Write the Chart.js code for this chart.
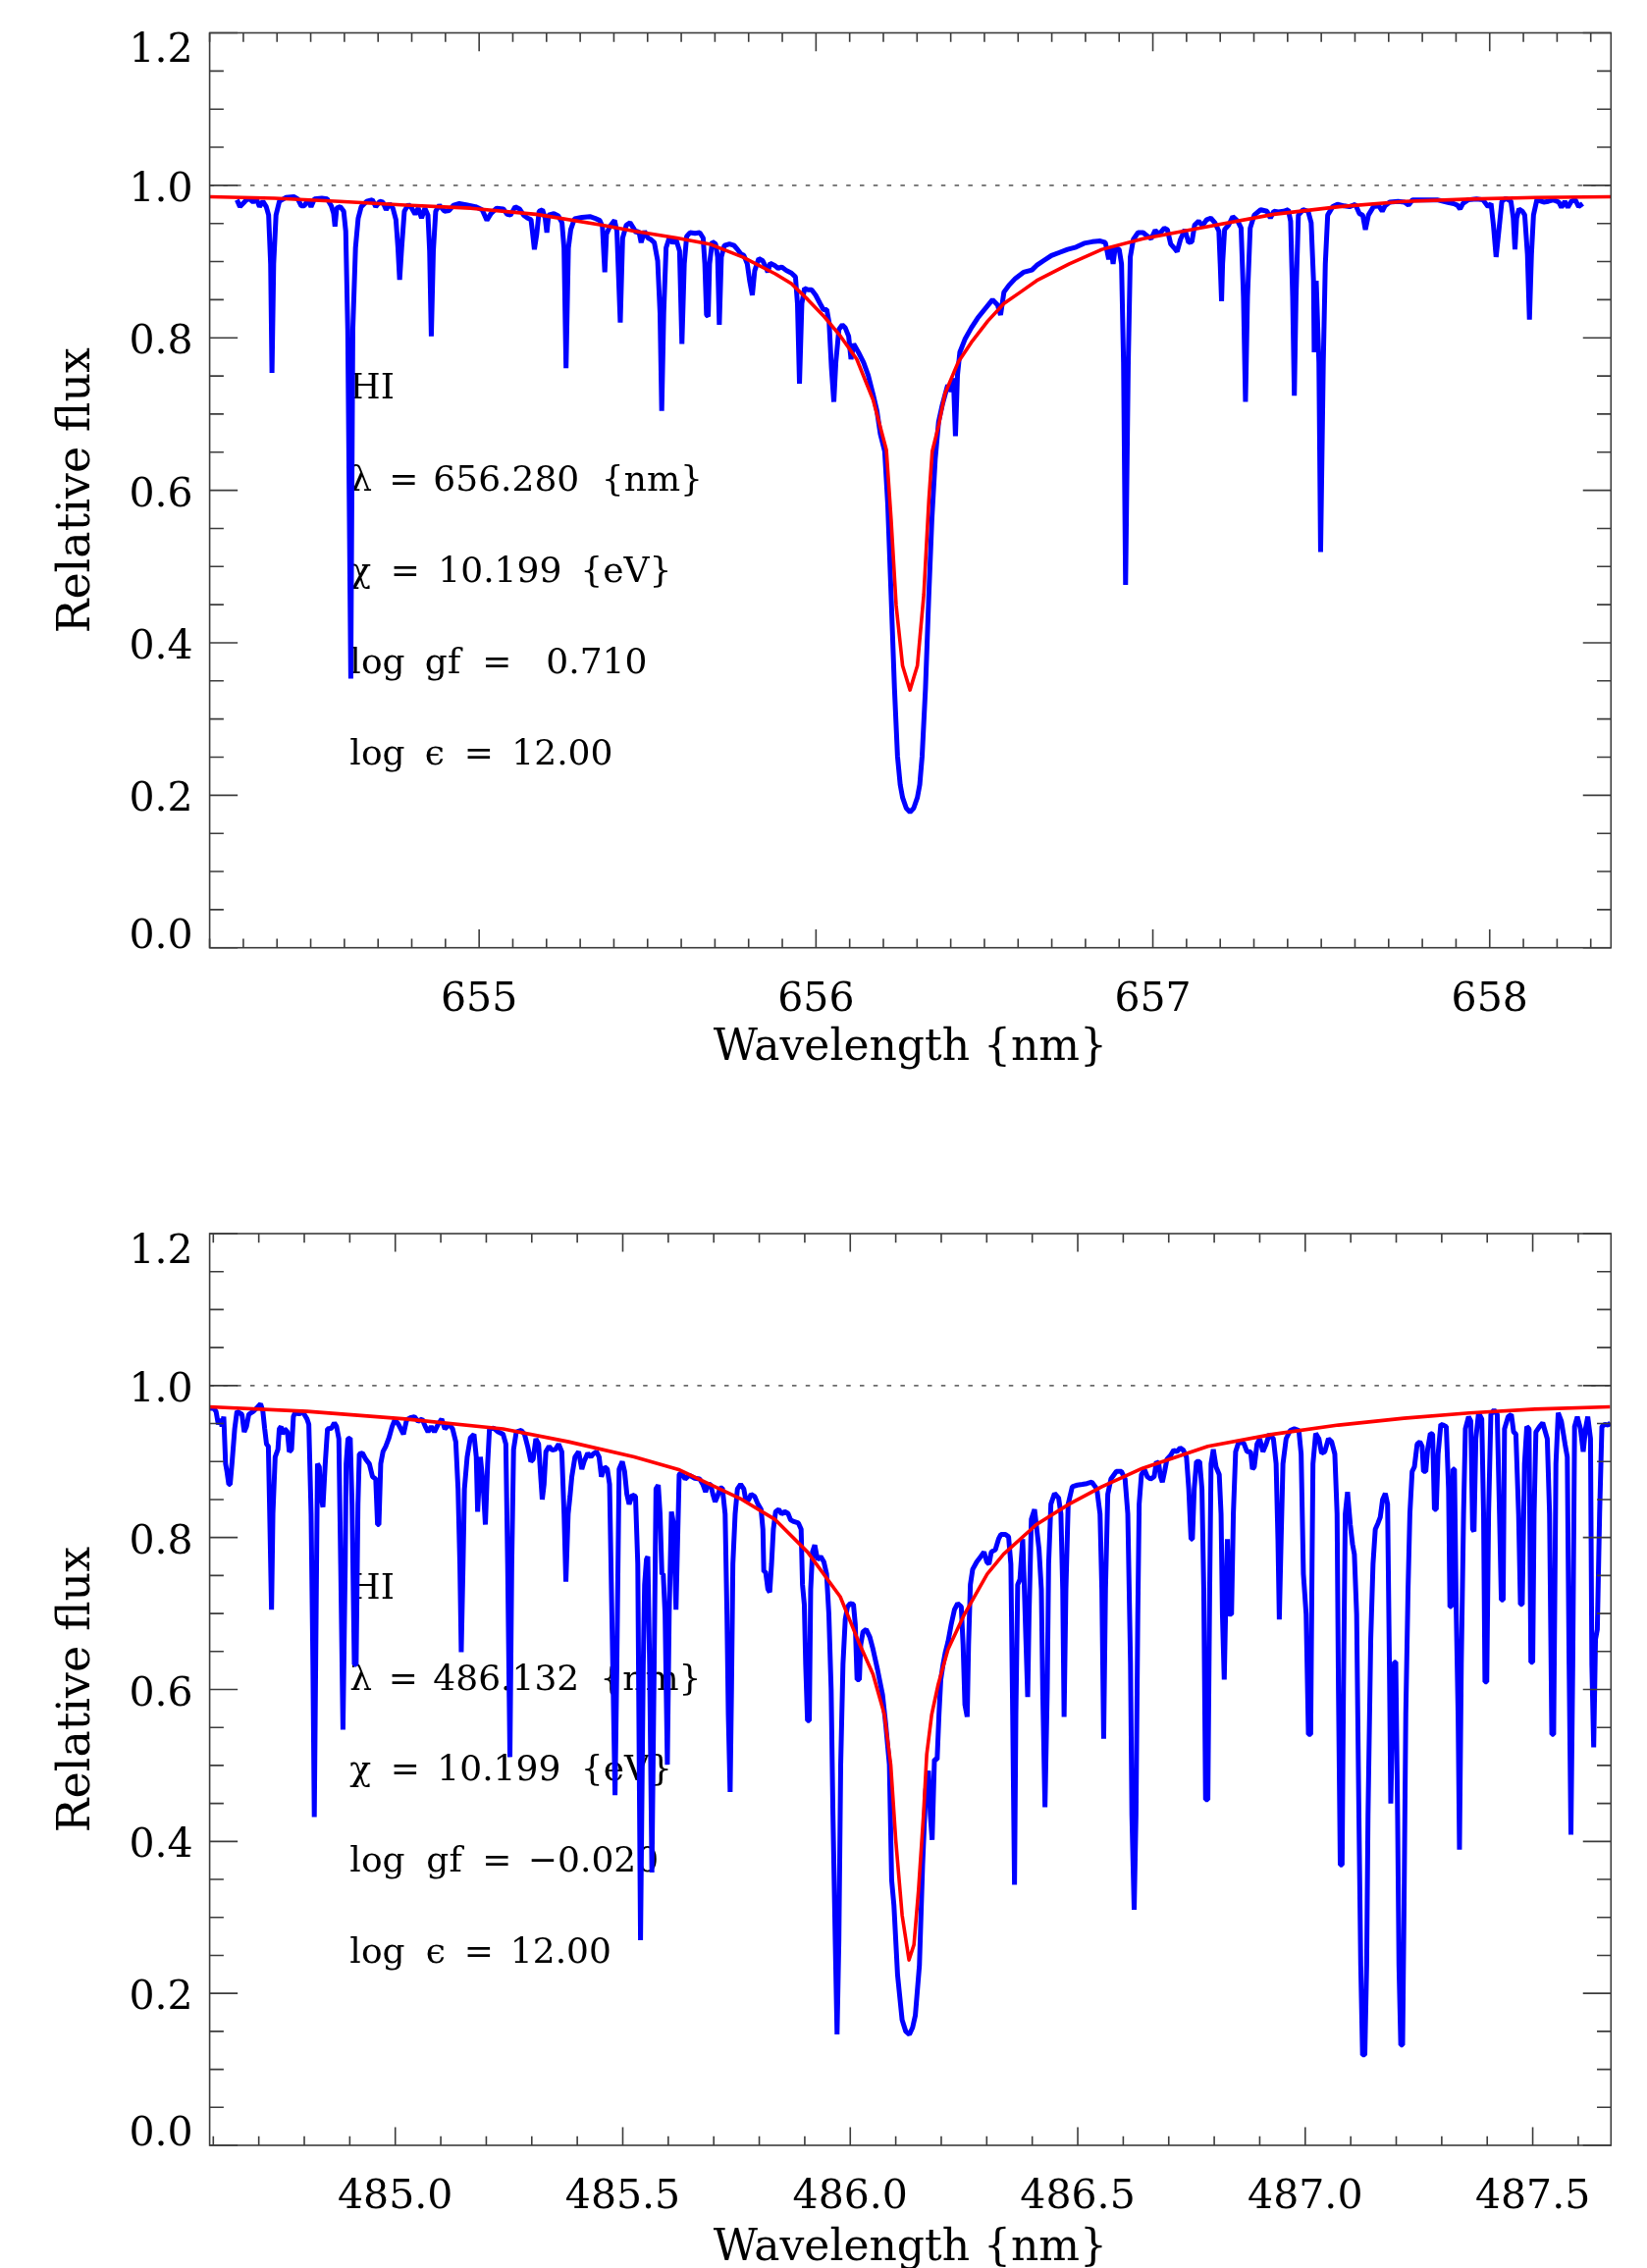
<!DOCTYPE html>
<html><head><meta charset="utf-8">
<script src="https://cdn.jsdelivr.net/npm/chart.js@4.4.1/dist/chart.umd.min.js"></script>
<style>
html,body{margin:0;padding:0;background:#fff;}
#wrap{position:relative;width:1678px;height:2311px;background:#fff;}
canvas{position:absolute;left:0;}
#c1{top:0;}
#c2{top:1150px;}
</style></head><body>
<div id="wrap"><canvas id="c1" width="1678" height="1150"></canvas><canvas id="c2" width="1678" height="1161"></canvas></div>
<script>
// ---------- H-alpha panel (656.280 nm) ----------
const haRange = [654.2, 658.36];
const haXTicks = [655, 656, 657, 658];
const haObserved = [
[654.281,0.981],[654.290,0.972],[654.305,0.979],[654.316,0.983],[654.329,0.978],[654.339,0.982],[654.348,0.972],[654.358,0.979],
[654.368,0.972],[654.375,0.961],[654.381,0.897],[654.385,0.754],[654.390,0.897],[654.397,0.961],[654.407,0.979],[654.426,0.984],
[654.450,0.985],[654.462,0.982],[654.472,0.973],[654.481,0.973],[654.491,0.981],[654.501,0.972],[654.511,0.982],[654.533,0.983],
[654.549,0.982],[654.561,0.973],[654.568,0.963],[654.572,0.946],[654.577,0.970],[654.588,0.972],[654.598,0.966],[654.604,0.940],
[654.610,0.811],[654.619,0.353],[654.625,0.811],[654.633,0.918],[654.641,0.957],[654.650,0.972],[654.666,0.979],[654.683,0.981],
[654.693,0.972],[654.705,0.979],[654.714,0.978],[654.724,0.968],[654.734,0.976],[654.744,0.970],[654.753,0.955],[654.759,0.918],
[654.764,0.876],[654.770,0.918],[654.778,0.966],[654.790,0.975],[654.800,0.970],[654.810,0.962],[654.819,0.970],[654.829,0.957],
[654.839,0.970],[654.848,0.961],[654.853,0.914],[654.858,0.802],[654.864,0.914],[654.871,0.966],[654.882,0.974],[654.897,0.966],
[654.911,0.967],[654.924,0.974],[654.941,0.976],[654.965,0.974],[654.989,0.972],[655.009,0.968],[655.023,0.954],[655.035,0.963],
[655.052,0.970],[655.072,0.969],[655.083,0.962],[655.093,0.961],[655.107,0.972],[655.120,0.969],[655.132,0.961],[655.144,0.957],
[655.154,0.955],[655.159,0.936],[655.164,0.916],[655.171,0.936],[655.178,0.966],[655.188,0.968],[655.196,0.957],[655.201,0.938],
[655.206,0.961],[655.222,0.963],[655.235,0.960],[655.246,0.951],[655.252,0.918],[655.258,0.760],[655.265,0.918],[655.272,0.942],
[655.283,0.956],[655.305,0.958],[655.329,0.959],[655.343,0.957],[655.358,0.954],[655.366,0.946],[655.373,0.886],[655.378,0.936],
[655.388,0.946],[655.402,0.954],[655.409,0.940],[655.419,0.820],[655.426,0.931],[655.437,0.948],[655.448,0.951],[655.458,0.944],
[655.466,0.938],[655.474,0.940],[655.481,0.925],[655.491,0.940],[655.501,0.931],[655.510,0.929],[655.520,0.925],[655.530,0.901],
[655.537,0.833],[655.542,0.704],[655.548,0.833],[655.555,0.918],[655.565,0.932],[655.575,0.924],[655.584,0.930],[655.595,0.914],
[655.602,0.792],[655.609,0.897],[655.616,0.933],[655.626,0.938],[655.641,0.937],[655.655,0.938],[655.665,0.931],[655.670,0.897],
[655.675,0.830],[655.680,0.828],[655.684,0.897],[655.692,0.926],[655.702,0.923],[655.708,0.906],[655.713,0.817],[655.719,0.906],
[655.728,0.921],[655.743,0.923],[655.757,0.921],[655.767,0.916],[655.777,0.910],[655.786,0.908],[655.796,0.897],[655.803,0.875],
[655.811,0.856],[655.818,0.888],[655.830,0.904],[655.842,0.901],[655.851,0.893],[655.857,0.886],[655.864,0.898],[655.877,0.895],
[655.888,0.891],[655.898,0.893],[655.913,0.888],[655.927,0.885],[655.939,0.880],[655.945,0.845],[655.951,0.740],[655.958,0.845],
[655.966,0.865],[655.976,0.863],[655.987,0.863],[655.999,0.856],[656.012,0.845],[656.022,0.837],[656.032,0.837],[656.039,0.820],
[656.046,0.760],[656.053,0.716],[656.059,0.768],[656.068,0.811],[656.078,0.817],[656.087,0.813],[656.097,0.802],[656.104,0.772],
[656.112,0.792],[656.126,0.781],[656.141,0.768],[656.155,0.751],[656.170,0.725],[656.181,0.704],[656.191,0.674],[656.204,0.651],
[656.213,0.582],[656.223,0.463],[656.233,0.340],[656.242,0.251],[656.250,0.214],[656.257,0.197],[656.268,0.183],[656.279,0.178],
[656.290,0.183],[656.301,0.197],[656.308,0.214],[656.315,0.251],
[656.325,0.340],[656.335,0.463],[656.344,0.562],[656.354,0.641],[656.364,0.690],[656.375,0.712],[656.391,0.738],[656.401,0.730],
[656.408,0.747],[656.414,0.671],[656.420,0.751],[656.427,0.781],[656.442,0.798],[656.461,0.813],[656.480,0.826],[656.500,0.837],
[656.524,0.850],[656.539,0.843],[656.548,0.830],[656.558,0.860],[656.573,0.869],[656.592,0.878],[656.616,0.886],[656.641,0.889],
[656.655,0.895],[656.675,0.901],[656.699,0.908],[656.723,0.912],[656.747,0.916],[656.772,0.919],[656.796,0.924],[656.820,0.926],
[656.844,0.927],[656.859,0.925],[656.869,0.903],[656.876,0.918],[656.882,0.897],[656.888,0.918],[656.900,0.916],[656.907,0.897],
[656.913,0.768],[656.919,0.476],[656.927,0.768],[656.933,0.906],[656.942,0.929],[656.956,0.938],[656.971,0.938],[656.985,0.933],
[656.995,0.930],[657.007,0.941],[657.019,0.936],[657.034,0.944],[657.043,0.942],[657.053,0.923],[657.063,0.918],[657.072,0.913],
[657.082,0.929],[657.095,0.942],[657.106,0.925],[657.116,0.926],[657.124,0.948],[657.136,0.953],[657.147,0.947],[657.160,0.955],
[657.172,0.957],[657.184,0.951],[657.196,0.940],[657.200,0.897],[657.204,0.848],[657.207,0.897],[657.213,0.942],[657.225,0.948],
[657.237,0.959],[657.252,0.953],[657.262,0.944],[657.269,0.854],[657.275,0.716],[657.281,0.854],[657.289,0.944],[657.301,0.961],
[657.320,0.968],[657.339,0.966],[657.349,0.957],[657.359,0.966],[657.373,0.965],[657.388,0.966],[657.402,0.968],[657.409,0.953],
[657.415,0.854],[657.420,0.724],[657.425,0.854],[657.432,0.961],[657.446,0.968],[657.461,0.966],[657.470,0.951],[657.477,0.875],
[657.479,0.781],[657.485,0.875],[657.493,0.768],[657.498,0.519],[657.506,0.768],[657.512,0.897],[657.519,0.961],[657.534,0.972],
[657.548,0.975],[657.568,0.973],[657.584,0.972],[657.601,0.975],[657.613,0.963],[657.623,0.961],[657.631,0.942],[657.640,0.961],
[657.655,0.972],[657.671,0.973],[657.681,0.966],[657.689,0.973],[657.703,0.978],[657.728,0.979],[657.747,0.978],[657.759,0.974],
[657.771,0.981],[657.805,0.981],[657.844,0.981],[657.873,0.978],[657.893,0.976],[657.904,0.974],[657.912,0.969],[657.920,0.976],
[657.936,0.981],[657.961,0.982],[657.980,0.981],[657.995,0.972],[658.004,0.976],[658.011,0.948],[658.019,0.906],[658.027,0.940],
[658.036,0.979],[658.048,0.983],[658.063,0.979],[658.070,0.957],[658.075,0.916],[658.080,0.957],[658.087,0.969],[658.097,0.966],
[658.104,0.961],[658.112,0.910],[658.118,0.824],[658.124,0.910],[658.130,0.961],[658.140,0.981],[658.160,0.978],[658.174,0.979],
[658.189,0.981],[658.205,0.978],[658.213,0.971],[658.223,0.979],[658.232,0.971],[658.242,0.979],[658.254,0.981],[658.264,0.972],
[658.276,0.976]
];
const haModel = [
[654.200,0.985],[654.392,0.983],[654.586,0.979],[654.781,0.974],[654.975,0.970],[655.169,0.962],[655.363,0.948],[655.460,0.940],
[655.587,0.931],[655.684,0.923],[655.782,0.906],[655.879,0.884],[655.927,0.871],[655.976,0.850],[656.024,0.828],[656.073,0.802],
[656.121,0.772],[656.170,0.718],[656.209,0.653],[656.223,0.562],[656.238,0.449],[656.257,0.370],[656.279,0.338],[656.301,0.370],
[656.320,0.463],[656.335,0.587],[656.345,0.651],[656.364,0.685],[656.383,0.727],[656.422,0.768],[656.461,0.794],[656.510,0.822],
[656.558,0.845],[656.607,0.860],[656.655,0.875],[656.752,0.897],[656.849,0.916],[656.971,0.930],[657.165,0.946],[657.359,0.962],
[657.553,0.972],[657.747,0.979],[657.941,0.982],[658.135,0.984],[658.360,0.985]
];
const haContinuum = [[654.2,1.0],[658.36,1.0]];
const haInfo = [["HI"], ["\u03bb", "=", "656.280", "{nm}"], ["\u03c7", "=", "10.199", "{eV}"], ["log", "gf", "=", "0.710"], ["log", "\u03f5", "=", "12.00"]];
const haInfoX = 654.616;

// ---------- H-beta panel (486.132 nm) ----------
const hbRange = [484.592, 487.672];
const hbXTicks = [485.0, 485.5, 486.0, 486.5, 487.0, 487.5];
const hbObserved = [
[484.591,0.970],[484.601,0.970],[484.606,0.966],[484.611,0.949],[484.616,0.956],[484.619,0.946],[484.623,0.959],[484.627,0.897],
[484.630,0.887],[484.634,0.870],[484.637,0.870],[484.641,0.897],[484.647,0.943],[484.652,0.966],[484.663,0.962],[484.668,0.939],
[484.673,0.946],[484.678,0.962],[484.688,0.966],[484.698,0.972],[484.704,0.976],[484.709,0.966],[484.713,0.943],[484.717,0.923],
[484.721,0.920],[484.724,0.831],[484.728,0.705],[484.731,0.831],[484.736,0.906],[484.742,0.916],[484.745,0.943],[484.749,0.946],
[484.752,0.936],[484.757,0.943],[484.763,0.939],[484.767,0.913],[484.772,0.916],[484.776,0.959],[484.781,0.966],[484.788,0.962],
[484.794,0.966],[484.800,0.962],[484.806,0.956],[484.810,0.949],[484.815,0.831],[484.819,0.633],[484.822,0.432],[484.825,0.633],
[484.829,0.897],[484.833,0.893],[484.836,0.857],[484.841,0.840],[484.846,0.897],[484.851,0.943],[484.860,0.944],[484.866,0.951],
[484.871,0.946],[484.876,0.930],[484.880,0.765],[484.885,0.547],[484.890,0.765],[484.892,0.897],[484.896,0.930],[484.901,0.931],
[484.905,0.844],[484.910,0.633],[484.914,0.633],[484.918,0.844],[484.921,0.910],[484.928,0.911],[484.935,0.903],[484.943,0.897],
[484.950,0.880],[484.957,0.877],[484.961,0.817],[484.964,0.817],[484.968,0.897],[484.973,0.913],[484.979,0.920],[484.986,0.931],
[484.993,0.946],[484.999,0.955],[485.007,0.949],[485.018,0.936],[485.025,0.955],[485.035,0.958],[485.042,0.959],[485.050,0.953],
[485.059,0.956],[485.066,0.946],[485.072,0.939],[485.079,0.946],[485.086,0.939],[485.094,0.949],[485.102,0.956],[485.109,0.943],
[485.119,0.949],[485.126,0.943],[485.133,0.926],[485.138,0.864],[485.142,0.765],[485.145,0.649],[485.149,0.765],[485.152,0.864],
[485.158,0.906],[485.165,0.931],[485.173,0.936],[485.178,0.906],[485.181,0.834],[485.187,0.906],[485.193,0.870],[485.198,0.817],
[485.203,0.897],[485.207,0.943],[485.216,0.944],[485.226,0.939],[485.237,0.936],[485.243,0.923],[485.247,0.765],[485.252,0.511],
[485.256,0.765],[485.260,0.916],[485.266,0.939],[485.277,0.941],[485.284,0.936],[485.291,0.920],[485.298,0.900],[485.303,0.903],
[485.309,0.930],[485.315,0.923],[485.320,0.877],[485.323,0.850],[485.327,0.870],[485.331,0.913],[485.338,0.920],[485.345,0.915],
[485.352,0.916],[485.359,0.923],[485.366,0.913],[485.371,0.831],[485.375,0.742],[485.380,0.831],[485.384,0.854],[485.388,0.880],
[485.395,0.906],[485.403,0.913],[485.410,0.890],[485.415,0.900],[485.423,0.911],[485.430,0.906],[485.435,0.910],[485.442,0.913],
[485.448,0.906],[485.453,0.880],[485.460,0.893],[485.466,0.890],[485.471,0.870],[485.478,0.633],[485.483,0.461],[485.487,0.633],
[485.492,0.890],[485.499,0.900],[485.504,0.887],[485.509,0.857],[485.514,0.844],[485.521,0.856],[485.528,0.854],[485.533,0.765],
[485.539,0.270],[485.545,0.633],[485.548,0.738],[485.552,0.771],[485.555,0.775],[485.559,0.633],[485.564,0.359],[485.569,0.633],
[485.573,0.864],[485.578,0.869],[485.582,0.831],[485.586,0.752],[485.589,0.752],[485.593,0.699],[485.598,0.501],[485.602,0.699],
[485.607,0.834],[485.612,0.817],[485.617,0.705],[485.624,0.883],[485.629,0.885],[485.637,0.877],[485.646,0.882],[485.658,0.878],
[485.669,0.877],[485.676,0.870],[485.682,0.860],[485.687,0.870],[485.693,0.870],[485.698,0.857],[485.703,0.847],[485.708,0.854],
[485.714,0.865],[485.719,0.865],[485.725,0.831],[485.729,0.699],[485.732,0.567],[485.736,0.465],[485.739,0.600],[485.742,0.765],
[485.747,0.831],[485.752,0.864],[485.759,0.870],[485.766,0.864],[485.771,0.847],[485.777,0.850],[485.782,0.857],[485.790,0.854],
[485.797,0.844],[485.804,0.837],[485.808,0.811],[485.810,0.755],[485.814,0.755],[485.819,0.732],[485.823,0.728],[485.827,0.765],
[485.831,0.811],[485.836,0.834],[485.843,0.837],[485.849,0.831],[485.856,0.834],[485.863,0.832],[485.869,0.823],[485.876,0.821],
[485.886,0.819],[485.892,0.811],[485.895,0.738],[485.899,0.712],[485.902,0.633],[485.906,0.559],[485.910,0.559],[485.913,0.732],
[485.917,0.781],[485.922,0.790],[485.928,0.771],[485.935,0.775],[485.942,0.768],[485.948,0.752],[485.953,0.699],[485.958,0.600],
[485.962,0.435],[485.967,0.270],[485.971,0.146],[485.975,0.270],[485.979,0.501],[485.984,0.633],[485.989,0.692],[485.994,0.709],
[486.000,0.713],[486.007,0.712],[486.011,0.686],[486.015,0.613],[486.020,0.613],[486.023,0.659],[486.028,0.676],[486.035,0.679],
[486.043,0.669],[486.050,0.653],[486.060,0.626],[486.071,0.593],[486.078,0.554],[486.086,0.501],[486.091,0.349],[486.096,0.316],
[486.104,0.224],[486.114,0.165],[486.122,0.150],[486.130,0.146],[486.137,0.155],[486.143,0.171],[486.152,0.237],[486.159,0.369],[486.166,0.468],[486.172,0.493],
[486.176,0.435],[486.180,0.402],[486.185,0.508],[486.191,0.508],[486.195,0.567],[486.199,0.613],[486.204,0.633],[486.209,0.649],
[486.215,0.663],[486.222,0.686],[486.229,0.705],[486.236,0.713],[486.244,0.709],[486.248,0.659],[486.252,0.580],[486.257,0.564],
[486.260,0.659],[486.264,0.738],[486.269,0.758],[486.278,0.768],[486.287,0.775],[486.294,0.781],[486.300,0.768],[486.305,0.765],
[486.310,0.781],[486.319,0.784],[486.326,0.798],[486.331,0.804],[486.341,0.804],[486.348,0.801],[486.353,0.765],[486.357,0.567],
[486.361,0.343],[486.364,0.567],[486.368,0.738],[486.373,0.745],[486.379,0.798],[486.382,0.745],[486.386,0.666],[486.390,0.590],
[486.393,0.699],[486.398,0.824],[486.405,0.837],[486.410,0.811],[486.415,0.784],[486.420,0.732],[486.423,0.600],[486.428,0.445],
[486.433,0.600],[486.436,0.765],[486.441,0.844],[486.449,0.858],[486.458,0.852],[486.463,0.831],[486.467,0.732],[486.470,0.564],
[486.474,0.732],[486.479,0.844],[486.488,0.867],[486.499,0.869],[486.510,0.870],[486.520,0.871],[486.531,0.873],[486.542,0.864],
[486.549,0.831],[486.553,0.732],[486.557,0.535],[486.561,0.732],[486.566,0.857],[486.573,0.877],[486.585,0.887],[486.596,0.887],
[486.604,0.877],[486.610,0.831],[486.616,0.633],[486.619,0.435],[486.624,0.310],[486.628,0.435],[486.632,0.699],[486.635,0.844],
[486.640,0.883],[486.647,0.889],[486.653,0.880],[486.660,0.877],[486.668,0.880],[486.673,0.900],[486.678,0.897],[486.682,0.880],
[486.686,0.873],[486.691,0.887],[486.696,0.903],[486.704,0.908],[486.711,0.915],[486.718,0.913],[486.725,0.918],[486.732,0.915],
[486.739,0.906],[486.744,0.864],[486.749,0.798],[486.752,0.798],[486.756,0.864],[486.761,0.900],[486.768,0.900],[486.773,0.864],
[486.777,0.732],[486.781,0.455],[486.786,0.455],[486.790,0.732],[486.793,0.897],[486.798,0.916],[486.804,0.893],[486.811,0.883],
[486.815,0.831],[486.818,0.699],[486.822,0.613],[486.826,0.732],[486.829,0.798],[486.833,0.699],[486.838,0.699],[486.842,0.831],
[486.847,0.913],[486.854,0.926],[486.865,0.924],[486.872,0.913],[486.880,0.913],[486.884,0.890],[486.888,0.893],[486.894,0.923],
[486.900,0.930],[486.907,0.913],[486.914,0.923],[486.921,0.936],[486.930,0.930],[486.936,0.897],[486.940,0.798],[486.943,0.692],
[486.947,0.798],[486.951,0.897],[486.958,0.930],[486.967,0.941],[486.976,0.943],[486.986,0.941],[486.991,0.910],[486.996,0.752],
[487.002,0.699],[487.007,0.541],[487.012,0.541],[487.015,0.765],[487.017,0.897],[487.023,0.937],[487.030,0.930],[487.036,0.911],
[487.043,0.913],[487.051,0.930],[487.058,0.926],[487.065,0.910],[487.070,0.831],[487.073,0.600],[487.077,0.369],[487.081,0.369],
[487.084,0.600],[487.088,0.831],[487.093,0.860],[487.099,0.817],[487.104,0.791],[487.108,0.778],[487.113,0.699],[487.118,0.435],
[487.122,0.237],[487.126,0.119],[487.131,0.119],[487.135,0.237],[487.138,0.435],[487.144,0.666],[487.149,0.765],[487.154,0.811],
[487.160,0.819],[487.165,0.827],[487.170,0.850],[487.176,0.858],[487.181,0.844],[487.185,0.633],[487.188,0.450],[487.192,0.567],
[487.196,0.636],[487.199,0.636],[487.203,0.435],[487.206,0.237],[487.210,0.132],[487.214,0.132],[487.217,0.303],[487.221,0.567],
[487.226,0.732],[487.230,0.831],[487.235,0.887],[487.240,0.893],[487.246,0.923],[487.252,0.926],[487.257,0.920],[487.260,0.887],
[487.265,0.887],[487.269,0.916],[487.275,0.937],[487.280,0.936],[487.284,0.837],[487.288,0.837],[487.292,0.910],[487.298,0.949],
[487.303,0.948],[487.310,0.946],[487.315,0.864],[487.318,0.709],[487.321,0.709],[487.325,0.890],[487.328,0.890],[487.332,0.699],
[487.336,0.567],[487.339,0.389],[487.343,0.633],[487.348,0.831],[487.352,0.943],[487.359,0.959],[487.364,0.953],[487.368,0.811],
[487.371,0.808],[487.375,0.930],[487.381,0.964],[487.388,0.956],[487.392,0.831],[487.395,0.610],[487.399,0.610],[487.403,0.831],
[487.408,0.962],[487.415,0.968],[487.422,0.962],[487.427,0.831],[487.431,0.718],[487.435,0.718],[487.438,0.943],[487.446,0.959],
[487.453,0.962],[487.458,0.939],[487.463,0.936],[487.469,0.831],[487.473,0.712],[487.477,0.712],[487.482,0.897],[487.487,0.946],
[487.492,0.943],[487.496,0.636],[487.500,0.636],[487.503,0.831],[487.507,0.939],[487.515,0.946],[487.522,0.951],[487.532,0.930],
[487.537,0.831],[487.542,0.541],[487.546,0.541],[487.551,0.897],[487.556,0.964],[487.563,0.953],[487.571,0.923],[487.576,0.906],
[487.580,0.633],[487.584,0.409],[487.588,0.633],[487.592,0.946],[487.598,0.959],[487.605,0.943],[487.611,0.913],[487.616,0.943],
[487.621,0.959],[487.627,0.930],[487.630,0.633],[487.634,0.524],[487.638,0.666],[487.642,0.679],[487.647,0.831],[487.652,0.946],
[487.659,0.949],[487.666,0.948],[487.671,0.951]
];
const hbModel = [
[484.591,0.972],[484.806,0.966],[485.022,0.956],[485.237,0.943],[485.381,0.926],[485.525,0.906],[485.625,0.889],[485.691,0.870],
[485.762,0.850],[485.834,0.824],[485.906,0.781],[485.978,0.722],[486.021,0.659],[486.050,0.620],[486.075,0.567],[486.089,0.501],
[486.100,0.402],[486.114,0.303],[486.129,0.244],[486.140,0.264],[486.150,0.336],[486.161,0.435],[486.168,0.514],[486.179,0.567],
[486.193,0.606],[486.215,0.653],[486.251,0.699],[486.301,0.752],[486.337,0.778],[486.409,0.817],[486.481,0.844],[486.553,0.867],
[486.642,0.891],[486.786,0.920],[486.930,0.936],[487.073,0.948],[487.217,0.957],[487.361,0.964],[487.505,0.969],[487.670,0.972]
];
const hbContinuum = [[484.592,1.0],[487.672,1.0]];
const hbInfo = [["HI"], ["\u03bb", "=", "486.132", "{nm}"], ["\u03c7", "=", "10.199", "{eV}"], ["log", "gf", "=", "\u22120.020"], ["log", "\u03f5", "=", "12.00"]];
const hbInfoX = 484.900;

// shared
const yTicks = [0.0, 0.2, 0.4, 0.6, 0.8, 1.0, 1.2];
const infoRows = [0.72, 0.60, 0.48, 0.36, 0.24];
const xTitle = "Wavelength {nm}";
const yTitle = "Relative flux";

// layout / style (pixel offsets of the words inside each annotation line)
const FONT = "'DejaVu Serif', 'Liberation Serif', serif";
const haTokenX = [[0], [0, 40, 85, 256.5], [0, 41.5, 90, 235], [0, 76.5, 135, 200], [0, 76.5, 116.5, 165]];
const hbTokenX = [[0], [0, 39.5, 85, 255], [0, 41.5, 89, 235.5], [0, 78, 135, 181.5], [0, 77.5, 116.5, 163.5]];

const idlFrame = {
  id: 'idlFrame',
  afterDraw(chart, args, o) {
    const {ctx, chartArea: a} = chart;
    const xs = chart.scales.x, ys = chart.scales.y;
    ctx.save();
    ctx.strokeStyle = '#3c3c3c';
    ctx.lineWidth = 1.6;
    ctx.strokeRect(a.left, a.top, a.right - a.left, a.bottom - a.top);
    const xLen = 0.02 * (a.bottom - a.top), yLen = 0.02 * (a.right - a.left);
    ctx.beginPath();
    let k0 = Math.ceil(xs.min / o.xMinor - 1e-6), k1 = Math.floor(xs.max / o.xMinor + 1e-6);
    for (let k = k0; k <= k1; k++) {
      const v = k * o.xMinor, r = v / o.xMajor;
      const len = Math.abs(r - Math.round(r)) < 1e-6 ? xLen : xLen / 2;
      const p = xs.getPixelForValue(v);
      ctx.moveTo(p, a.bottom); ctx.lineTo(p, a.bottom - len);
      ctx.moveTo(p, a.top); ctx.lineTo(p, a.top + len);
    }
    k0 = Math.ceil(ys.min / o.yMinor - 1e-6); k1 = Math.floor(ys.max / o.yMinor + 1e-6);
    for (let k = k0; k <= k1; k++) {
      const v = k * o.yMinor, r = v / o.yMajor;
      const len = Math.abs(r - Math.round(r)) < 1e-6 ? yLen : yLen / 2;
      const p = ys.getPixelForValue(v);
      ctx.moveTo(a.left, p); ctx.lineTo(a.left + len, p);
      ctx.moveTo(a.right, p); ctx.lineTo(a.right - len, p);
    }
    ctx.stroke();
    // y tick labels (end labels kept inside the axis span, as in the original)
    ctx.fillStyle = '#000';
    ctx.font = '41px ' + FONT;
    ctx.textAlign = 'right';
    ctx.textBaseline = 'alphabetic';
    const dh = 29.5;
    yTicks.forEach(v => {
      const p = ys.getPixelForValue(v);
      let base = p + 16;
      if (Math.abs(v - ys.max) < 1e-9) base = a.top + dh;
      else if (Math.abs(v - ys.min) < 1e-9) base = a.bottom;
      ctx.fillText(v.toFixed(1), a.left - 17, base);
    });
    ctx.restore();
  }
};

const lineInfo = {
  id: 'lineInfo',
  beforeDatasetsDraw(chart, args, o) {
    const {ctx} = chart;
    const xs = chart.scales.x, ys = chart.scales.y;
    ctx.save();
    ctx.fillStyle = '#000';
    ctx.font = '36px ' + FONT;
    ctx.textAlign = 'left';
    ctx.textBaseline = 'alphabetic';
    const px = xs.getPixelForValue(o.x);
    o.lines.forEach((words, i) => {
      const py = ys.getPixelForValue(o.rows[i]);
      words.forEach((w, j) => ctx.fillText(w, px + o.tokenX[i][j], py));
    });
    ctx.restore();
  }
};

function toXY(arr) { return arr.map(p => ({x: p[0], y: p[1]})); }

function panel(id, cfg) {
  return new Chart(document.getElementById(id), {
    type: 'line',
    data: {
      datasets: [
        {data: toXY(cfg.model), borderColor: '#ff0000', borderWidth: 3.6, pointRadius: 0, tension: 0, fill: false, borderJoinStyle: 'round'},
        {data: toXY(cfg.obs), borderColor: '#0000ff', borderWidth: 5, pointRadius: 0, tension: 0, fill: false, borderJoinStyle: 'bevel'},
        {data: toXY(cfg.cont), borderColor: '#6a6a6a', borderWidth: 1.6, borderDash: [4.5, 9.3], pointRadius: 0, tension: 0, fill: false}
      ]
    },
    plugins: [lineInfo, idlFrame],
    options: {
      responsive: false,
      animation: false,
      devicePixelRatio: 1,
      layout: {padding: {top: cfg.padTop, right: 36.7, left: 0, bottom: 0}},
      plugins: {
        legend: {display: false},
        tooltip: {enabled: false},
        lineInfo: {x: cfg.infoX, rows: infoRows, lines: cfg.info, tokenX: cfg.tokenX},
        idlFrame: {xMinor: 0.1, xMajor: cfg.xMajor, yMinor: 0.05, yMajor: 0.2}
      },
      scales: {
        x: {
          type: 'linear', min: cfg.range[0], max: cfg.range[1], bounds: 'data',
          afterBuildTicks: s => { s.ticks = cfg.xTicks.map(v => ({value: v})); },
          afterFit: s => { s.height = cfg.xAxisH; },
          grid: {display: false, drawTicks: false},
          border: {display: false},
          ticks: {font: {family: FONT, size: 41}, color: '#000', padding: 29, maxRotation: 0, autoSkip: false,
                  callback: v => cfg.fmt(v)},
          title: {display: true, text: xTitle, font: {family: FONT, size: 44}, color: '#000',
                  padding: {top: 0, bottom: cfg.xTitlePad}}
        },
        y: {
          type: 'linear', min: 0, max: 1.2, bounds: 'data',
          afterBuildTicks: s => { s.ticks = yTicks.map(v => ({value: v})); },
          afterFit: s => { s.width = 213.6; },
          grid: {display: false, drawTicks: false},
          border: {display: false},
          ticks: {display: false},
          title: {display: true, text: yTitle, font: {family: FONT, size: 46}, color: '#000',
                  padding: {top: 51.5, bottom: 0}}
        }
      }
    }
  });
}

panel('c1', {model: haModel, obs: haObserved, cont: haContinuum, range: haRange, xTicks: haXTicks,
  xMajor: 1, fmt: v => String(Math.round(v)), info: haInfo, infoX: haInfoX, tokenX: haTokenX,
  padTop: 33.5, xAxisH: 184.3, xTitlePad: 55});
panel('c2', {model: hbModel, obs: hbObserved, cont: hbContinuum, range: hbRange, xTicks: hbXTicks,
  xMajor: 0.5, fmt: v => Number(v).toFixed(1), info: hbInfo, infoX: hbInfoX, tokenX: hbTokenX,
  padTop: 107, xAxisH: 125, xTitlePad: -7});
</script>
</body></html>
